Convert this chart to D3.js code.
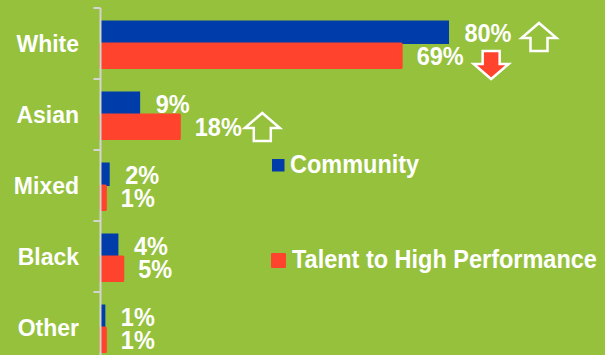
<!DOCTYPE html>
<html>
<head>
<meta charset="utf-8">
<script src="https://cdn.jsdelivr.net/npm/d3@7"></script>
<style>
  html, body { margin: 0; padding: 0; background: #95C13D; }
  svg { display: block; }
  text { font-family: "Liberation Sans", Arial, sans-serif; font-weight: bold; fill: #ffffff; }
</style>
</head>
<body>
<svg id="chart" width="605" height="355"></svg>
<script>
// Ethnicity breakdown, percentages per group
const categories = ["White", "Asian", "Mixed", "Black", "Other"];
const seriesNames = ["Community", "Talent to High Performance"];
const community = [80, 9, 2, 4, 1];
const talent = [69, 18, 1, 5, 1];
// change markers next to the value labels: "up" / "down" / null
const communityTrend = ["up", null, null, null, null];
const talentTrend = ["down", "up", null, null, null];

const colors = { "Community": "#003DAA", "Talent to High Performance": "#FF432C" };
const bg = "#95C13D";
const stretch = 1.08; // slightly tall lettering

const svg = d3.select("#chart");
const W = 605, H = 355;
svg.append("rect").attr("width", W).attr("height", H).attr("fill", bg);

const x = d3.scaleLinear().domain([0, 100]).range([101, 536]);
const y = d3.scaleBand().domain(categories).range([8, 363]).padding(0);
const inner = d3.scaleBand().domain(seriesNames).range([-23, 24]);

const rows = categories.map((c, i) => ({
  cat: c,
  vals: [
    { s: seriesNames[0], v: community[i], trend: communityTrend[i] },
    { s: seriesNames[1], v: talent[i], trend: talentTrend[i] }
  ]
}));

const center = c => y(c) + y.bandwidth() / 2;

function label(sel, tx, ty) {
  return sel.attr("transform", `translate(${tx},${ty}) scale(1,${stretch})`);
}

// bars
const g = svg.append("g");
rows.forEach(r => {
  r.vals.forEach((d, j) => {
    const top = center(r.cat) + inner(d.s);
    const rect = g.append("rect")
      .attr("x", x(0))
      .attr("y", top)
      .attr("width", x(d.v) - x(0))
      .attr("height", inner.bandwidth())
      .attr("fill", colors[d.s]);
    if (j === 1) {
      rect.attr("stroke", colors[d.s]).attr("stroke-width", 3).attr("stroke-linejoin", "round");
    }
  });
});

// category axis: vertical rule with short ticks at band edges
const ax = svg.append("g").attr("transform", `translate(${x(0) - 0.5},0)`);
ax.append("line").attr("x1", 0).attr("x2", 0).attr("y1", 8).attr("y2", H)
  .attr("stroke", "#D4D4D4").attr("stroke-width", 2);
ax.selectAll(".band-tick").data(categories).join("line")
  .attr("class", "band-tick")
  .attr("x1", -7).attr("x2", 0)
  .attr("y1", d => y(d)).attr("y2", d => y(d))
  .attr("stroke", "#D4D4D4").attr("stroke-width", 2);

svg.selectAll(".cat-label").data(categories).join("text")
  .attr("class", "cat-label")
  .attr("text-anchor", "end")
  .style("font-size", "23px")
  .each(function (d) { label(d3.select(this), 79, center(d) + 8); })
  .text(d => d);

// block arrow, 35 wide and 28 tall, centred on cx
function arrow(cx, top, dir, fill) {
  const w = 35, h = 28, head = 15, stem = 17;
  let pts;
  if (dir === "up") {
    pts = [[0, 0], [w / 2, head], [stem / 2, head], [stem / 2, h], [-stem / 2, h], [-stem / 2, head], [-w / 2, head]];
  } else {
    pts = [[0, h], [w / 2, h - head], [stem / 2, h - head], [stem / 2, 0], [-stem / 2, 0], [-stem / 2, h - head], [-w / 2, h - head]];
  }
  svg.append("polygon")
    .attr("points", pts.map(p => [cx + p[0], top + p[1]].join(",")).join(" "))
    .attr("fill", fill)
    .attr("stroke", "#ffffff")
    .attr("stroke-width", 2.5)
    .attr("stroke-linejoin", "miter");
}

// arrow placement relative to the value label: [gap after text, top offset from band centre]
const arrowPlace = {
  "Community|up": [10, -20.5],
  "Talent to High Performance|down": [10, 7.5],
  "Talent to High Performance|up": [3, -1.5]
};

rows.forEach(r => {
  r.vals.forEach((d, j) => {
    const base = center(r.cat) + (j === 0 ? -1.5 : 21.5);
    const tx = x(d.v) + 15.5;
    const t = svg.append("text")
      .style("font-size", "23.5px")
      .text(d.v + "%");
    label(t, tx, base);
    if (d.trend) {
      const tw = t.node().getComputedTextLength();
      const [gap, off] = arrowPlace[d.s + "|" + d.trend];
      arrow(tx + tw + gap + 17.5, center(r.cat) + off, d.trend, d.trend === "up" ? bg : colors[d.s]);
    }
  });
});

// legend
const legend = [
  { s: seriesNames[0], sx: 272, sy: 159, size: 12.5, tx: 290, ty: 173 },
  { s: seriesNames[1], sx: 272, sy: 254, size: 13, tx: 292, ty: 268 }
];
legend.forEach((l, i) => {
  const sq = svg.append("rect")
    .attr("x", l.sx).attr("y", l.sy)
    .attr("width", l.size).attr("height", l.size)
    .attr("fill", colors[l.s]);
  if (i === 1) sq.attr("stroke", colors[l.s]).attr("stroke-width", 2).attr("stroke-linejoin", "round");
  const t = svg.append("text")
    .style("font-size", "23.5px")
    .text(l.s);
  label(t, l.tx, l.ty);
});
</script>
</body>
</html>
